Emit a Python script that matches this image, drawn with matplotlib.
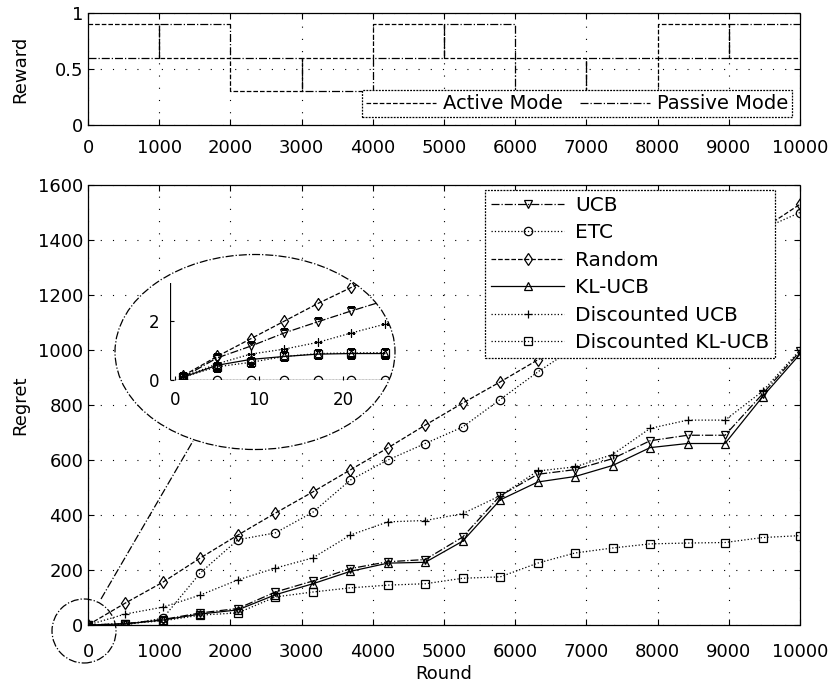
import matplotlib
matplotlib.use('Agg')
import matplotlib.pyplot as plt
from matplotlib.patches import Ellipse
from matplotlib.lines import Line2D

# ---- data ----
# top panel: reward of each mode over 1000-round blocks
block_edges = [0, 1000, 2000, 3000, 4000, 5000, 6000, 7000, 8000, 9000, 10000]
active_reward = [0.9, 0.6, 0.3, 0.6, 0.9, 0.6, 0.6, 0.3, 0.9, 0.6]
passive_reward = [0.6, 0.9, 0.6, 0.3, 0.6, 0.9, 0.3, 0.6, 0.6, 0.9]

# bottom panel: regret
rounds = [0, 526, 1053, 1579, 2105, 2632, 3158, 3684, 4211, 4737,
          5263, 5789, 6316, 6842, 7368, 7895, 8421, 8947, 9474, 10000]
ucb = [0, 5, 20, 44, 60, 120, 160, 205, 230, 238,
       320, 470, 548, 565, 605, 670, 690, 690, 840, 995]
etc = [0, 0, 25, 190, 310, 335, 410, 527, 600, 660,
       720, 820, 920, 1010, 1100, 1190, 1280, 1360, 1440, 1500]
random_ = [0, 80, 156, 244, 327, 407, 484, 564, 644, 727,
           807, 884, 964, 1040, 1120, 1200, 1280, 1360, 1440, 1530]
kl_ucb = [0, 4, 18, 40, 55, 110, 150, 195, 225, 228,
          305, 455, 520, 540, 580, 645, 660, 660, 830, 985]
d_ucb = [0, 40, 65, 109, 164, 207, 244, 327, 375, 380,
         405, 470, 560, 575, 620, 715, 745, 745, 850, 1000]
d_kl_ucb = [0, 5, 15, 36, 44, 102, 120, 135, 145, 150,
            170, 175, 225, 262, 280, 295, 298, 300, 318, 325]

# zoomed inset: first rounds
inset_rounds = [1, 5, 9, 13, 17, 21, 25]
ins_ucb = [0.1, 0.75, 1.15, 1.6, 1.98, 2.35, 2.7]
ins_etc = [0, 0, 0, 0, 0, 0, 0]
ins_random = [0.15, 0.8, 1.4, 2.0, 2.6, 3.15, 3.7]
ins_kl_ucb = [0.1, 0.5, 0.7, 0.8, 0.88, 0.9, 0.9]
ins_d_ucb = [0.1, 0.55, 0.88, 1.05, 1.28, 1.6, 1.9]
ins_d_kl_ucb = [0.1, 0.45, 0.6, 0.8, 0.9, 0.92, 0.93]

labels = ['UCB', 'ETC', 'Random', 'KL-UCB', 'Discounted UCB', 'Discounted KL-UCB']
series = [ucb, etc, random_, kl_ucb, d_ucb, d_kl_ucb]
ins_series = [ins_ucb, ins_etc, ins_random, ins_kl_ucb, ins_d_ucb, ins_d_kl_ucb]
line_styles = ['-.', ':', '--', '-', ':', ':']
markers = ['v', 'o', 'd', '^', '+', 's']

plt.rcParams['font.family'] = 'DejaVu Sans'
plt.rcParams['font.size'] = 13

W, H = 830, 697
fig = plt.figure(figsize=(W / 100, H / 100), dpi=100)


def fx(px):
    return px / W


def fy(py):
    return 1 - py / H


def style_axes(ax):
    for s in ax.spines.values():
        s.set_linestyle((0, (1.5, 1)))
        s.set_linewidth(0.9)
    ax.tick_params(direction='in', length=4, width=0.8, labelsize=13,
                   top=True, right=True)
    ax.grid(True, color='black', linestyle=(0, (1, 10)), linewidth=0.8)


def style_legend(leg):
    fr = leg.get_frame()
    fr.set_edgecolor('black')
    fr.set_linestyle((0, (1.5, 1)))
    fr.set_linewidth(0.9)


# top panel
ax1 = fig.add_axes([fx(88), fy(125), fx(712), 112 / H])
ax1.plot(block_edges, active_reward + [active_reward[-1]], drawstyle='steps-post',
         color='black', linestyle='--', linewidth=0.9, label='Active Mode')
ax1.plot(block_edges, passive_reward + [passive_reward[-1]], drawstyle='steps-post',
         color='black', linestyle='-.', linewidth=0.9, label='Passive Mode')
ax1.set_xlim(0, 10000)
ax1.set_ylim(0, 1)
ax1.set_xticks(range(0, 10001, 1000))
ax1.set_yticks([0, 0.5, 1])
ax1.set_yticklabels(['0', '0.5', '1'])
style_axes(ax1)
ax1.tick_params(axis='x', pad=10)
ax1.set_ylabel('Reward', fontsize=13)
ax1.yaxis.set_label_coords((29 - 88) / 712, 0.5)
leg1 = ax1.legend(loc='lower right', ncol=2, fontsize=14, handlelength=3.6,
                  handletextpad=0.35, columnspacing=0.9, borderpad=0.2,
                  borderaxespad=0.4, fancybox=False, framealpha=1)
style_legend(leg1)

# main panel
ax2 = fig.add_axes([fx(88), fy(625), fx(712), 440 / H])
for y, lab, ls, mk in zip(series, labels, line_styles, markers):
    ax2.plot(rounds, y, color='black', linestyle=ls, linewidth=0.9, marker=mk,
             markersize=6, markerfacecolor='none', markeredgewidth=0.9, label=lab)
ax2.set_xlim(0, 10000)
ax2.set_ylim(0, 1600)
ax2.set_xticks(range(0, 10001, 1000))
ax2.set_yticks(range(0, 1601, 200))
style_axes(ax2)
ax2.tick_params(axis='x', pad=13)
ax2.set_ylabel('Regret', fontsize=13)
ax2.yaxis.set_label_coords((29 - 88) / 712, 0.5)
ax2.set_xlabel('Round', fontsize=13)
ax2.xaxis.set_label_coords(0.5, -0.092)
leg2 = ax2.legend(loc='upper right', bbox_to_anchor=((775 - 88) / 712, (625 - 190) / 440),
                  borderaxespad=0, fontsize=14.5, handlelength=3.6, handletextpad=0.55,
                  labelspacing=0.42, borderpad=0.3, fancybox=False, framealpha=1)
style_legend(leg2)

# zoom ellipses
big = Ellipse((fx(255), fy(352)), fx(280), 195 / H, transform=fig.transFigure,
              facecolor='white', edgecolor='black', linestyle='-.', linewidth=0.9, zorder=1)
fig.patches.append(big)
small = Ellipse((fx(84), fy(631)), fx(64), 64 / H, transform=fig.transFigure,
                facecolor='none', edgecolor='black', linestyle='-.', linewidth=0.9, zorder=1)
fig.patches.append(small)
fig.lines.append(Line2D([fx(101), fx(193)], [fy(599), fy(441)], transform=fig.transFigure,
                        color='black', linestyle='-.', linewidth=0.9, zorder=1))

# inset
axins = fig.add_axes([fx(170), fy(380), fx(230), 97 / H], zorder=3)
axins.patch.set_visible(False)
for y, ls, mk in zip(ins_series, line_styles, markers):
    ln, = axins.plot(inset_rounds, y, color='black', linestyle=ls, linewidth=0.9, marker=mk,
                     markersize=6, markerfacecolor='none', markeredgewidth=0.9)
    ln.set_clip_path(big)
axins.set_xlim(-0.6, 26.8)
axins.set_ylim(0, 3.3)
axins.set_xticks([0, 10, 20])
axins.set_yticks([0, 2])
axins.spines['top'].set_visible(False)
axins.spines['right'].set_visible(False)
for s in ['left', 'bottom']:
    axins.spines[s].set_linestyle((0, (1.5, 1)))
    axins.spines[s].set_linewidth(0.9)
    axins.spines[s].set_clip_path(big)
axins.tick_params(direction='in', length=3, labelsize=12, pad=8)

fig.savefig('out.png', dpi=100)
